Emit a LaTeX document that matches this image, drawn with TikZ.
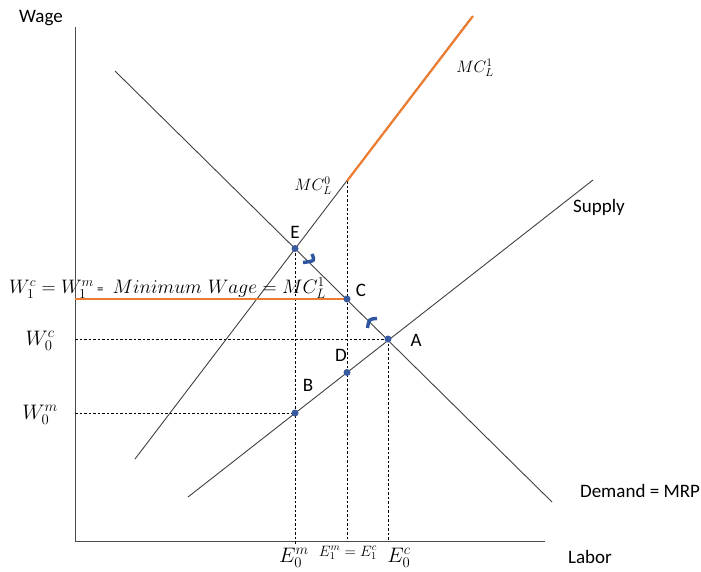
\RequirePackage{fix-cm}
\documentclass[tikz,border=0pt]{standalone}
\usepackage{fontspec}
\setsansfont{Carlito}
\begin{document}
\begin{tikzpicture}[x=1pt,y=-1pt,
  curve/.style={draw=black!75, line width=0.9pt},
  axis/.style={draw=black!70, line width=1pt},
  guide/.style={draw=black, dashed, line width=0.6pt, dash pattern=on 2.5pt off 2pt},
  orangeline/.style={line width=2.2pt, color={rgb,255:red,237;green,125;blue,49}},
  dot/.style={circle, fill={rgb,255:red,58;green,91;blue,160}, inner sep=0pt, minimum size=7pt},
  bluemark/.style={draw={rgb,255:red,47;green,85;blue,160}, line width=3.4pt},
  lab/.style={font=\sffamily\fontsize{19}{22}\selectfont, inner sep=0pt},
  mlab/.style={font=\fontsize{16.5}{20}\selectfont, inner sep=0pt},
  wlab/.style={font=\fontsize{21}{24}\selectfont, inner sep=0pt}]
\useasboundingbox (0,0) rectangle (701,571);
% axes
\coordinate (O) at (75,541);
\coordinate (Ytop) at (75,27);
\coordinate (Xend) at (545,541);
\draw[axis] (Ytop) -- (O) -- (Xend);
% lines
\coordinate (D1) at (115,71);
\coordinate (D2) at (552,502);
\coordinate (S1) at (188,497);
\coordinate (S2) at (593,180);
\coordinate (M1) at (135,459);
\coordinate (M2) at (470,19);
\draw[curve] (D1) -- (D2);
\draw[curve] (S1) -- (S2);
\draw[curve] (M1) -- (M2);
% points
\coordinate (E) at (295,248.5);
\coordinate (C) at (347,299);
\coordinate (A) at (388,339);
\coordinate (D) at (347,372.5);
\coordinate (B) at (295,413);
\coordinate (MC0) at (347,181);
\coordinate (MCtop) at (473,16);
% axis foot coordinates
\coordinate (xE0m) at (295,545);
\coordinate (xE1) at (347,541);
\coordinate (xE0c) at (388,541);
\coordinate (yW0c) at (75,339);
\coordinate (yW0m) at (75,413);
\coordinate (yW1) at (75,299);
% dashed guides
\draw[guide] (E) -- (xE0m);
\draw[guide] (MC0) -- (xE1);
\draw[guide] (A) -- (xE0c);
\draw[guide] (yW0c) -- (A);
\draw[guide] (yW0m) -- (B);
% orange
\draw[orangeline] (yW1) -- (C);
\draw[orangeline] (MC0) -- (MCtop);
% blue marks
\draw[bluemark] (312,254) .. controls (315,261) .. (303,262.5);
\draw[bluemark] (377,318.5) .. controls (369,319) .. (367.5,328);
% dots
\foreach \p in {E,C,A,D,B} \node[dot] (dot\p) at (\p) {};
% point labels
\node[lab] (lE) at (295,232) {E};
\node[lab] (lC) at (361,290) {C};
\node[lab] (lA) at (416,340) {A};
\node[lab] (lD) at (341,355) {D};
\node[lab] (lB) at (308,385) {B};
% axis labels
\node[lab] (lWage) at (41,18) {Wage};
\node[lab] (lLabor) at (590,557) {Labor};
\node[lab] (lSupply) at (599,207) {Supply};
\node[lab] (lDemand) at (640,491) {Demand = MRP};
% math labels
\node[mlab] (lMC1) at (475,68) {$MC_L^1$};
\node[mlab] (lMC0) at (313,186) {$MC_L^0$};
\node[wlab, font=\fontsize{19.5}{23}\selectfont, anchor=west] (lW1) at (9,288) {$W_1^c = W_1^m$\,{\sffamily\fontsize{13}{15}\selectfont =}\,\ $Minimum\ Wage = MC_L^1$};
\node[wlab] (lW0c) at (40,341) {$W_0^c$};
\node[wlab] (lW0m) at (40,415) {$W_0^m$};
\node[wlab] (lE0m) at (294,558) {$E_0^m$};
\node[mlab, font=\fontsize{15}{18}\selectfont] (lE1) at (348,553) {$E_1^m = E_1^c$};
\node[wlab] (lE0c) at (399,558) {$E_0^c$};
\end{tikzpicture}
\end{document}
